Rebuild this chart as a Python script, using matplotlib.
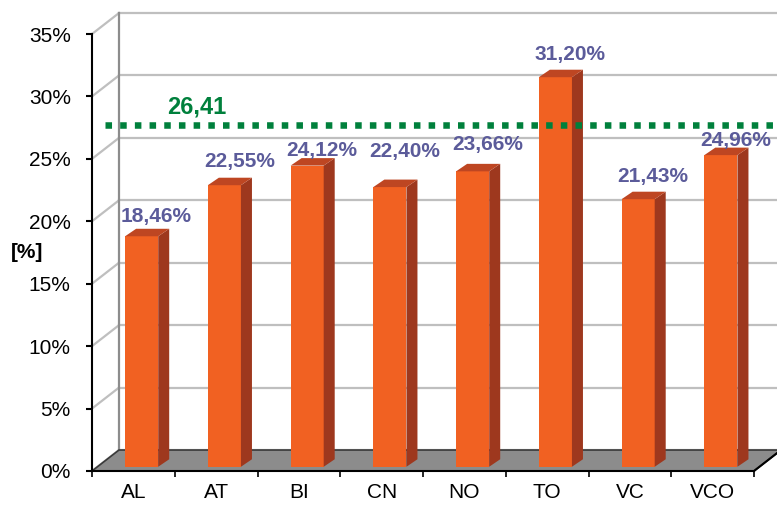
import matplotlib.pyplot as plt
from matplotlib.patches import Polygon, Rectangle

plt.rcParams['font.family'] = ['Liberation Sans', 'DejaVu Sans']

# data
categories = ['AL', 'AT', 'BI', 'CN', 'NO', 'TO', 'VC', 'VCO']
values = [18.46, 22.55, 24.12, 22.40, 23.66, 31.20, 21.43, 24.96]
average = 26.41
y_ticks = [0, 5, 10, 15, 20, 25, 30, 35]

# layout of the fake 3D look (data units)
DX, DY = 0.326, 1.68          # depth of the floor / back wall
BAR_X, BAR_W, BAR_Y0 = 0.40, 0.40, 0.34
BDX, BDY = 0.133, 0.6         # depth of each bar
label_dy = [1.48, 1.80, 1.11, 2.77, 2.05, 1.72, 1.74, 1.07]   # Excel shifted labels a bit

orange = '#F16122'
orange_side = '#9E381E'
orange_top = '#BE4622'
label_col = '#5B5B9A'
green = '#00803C'
grid_col = '#BFBFBF'

fig = plt.figure(figsize=(7.77, 5.07), dpi=100)
ax = fig.add_axes([92 / 777, 36 / 507, 662 / 777, 437 / 507])
ax.set_xlim(0, len(categories))
ax.set_ylim(0, 35)

n = len(categories)

# back wall and left wall grid
for v in y_ticks:
    ax.plot([DX, n + DX], [v + DY, v + DY], color=grid_col, lw=1.6, clip_on=False, zorder=1)
    ax.plot([0, DX], [v, v + DY], color=grid_col, lw=1.6, clip_on=False, zorder=1)
ax.plot([DX, DX], [DY, 35 + DY], color='#8C8C8C', lw=1.6, clip_on=False, zorder=1)

# floor
floor = Polygon([(0, 0), (n, 0), (n + DX, DY), (DX, DY)], closed=True,
                facecolor='#8C8C8C', edgecolor='#3A3A3A', lw=1.2, clip_on=False, zorder=2)
ax.add_patch(floor)

# bars
for i, v in enumerate(values):
    x0 = i + BAR_X
    front = Rectangle((x0, BAR_Y0), BAR_W, v, facecolor=orange, edgecolor='none',
                      clip_on=False, zorder=3)
    side = Polygon([(x0 + BAR_W, BAR_Y0), (x0 + BAR_W + BDX, BAR_Y0 + BDY),
                    (x0 + BAR_W + BDX, BAR_Y0 + v + BDY), (x0 + BAR_W, BAR_Y0 + v)],
                   closed=True, facecolor=orange_side, edgecolor='none', clip_on=False, zorder=3)
    top = Polygon([(x0, BAR_Y0 + v), (x0 + BAR_W, BAR_Y0 + v),
                   (x0 + BAR_W + BDX, BAR_Y0 + v + BDY), (x0 + BDX, BAR_Y0 + v + BDY)],
                  closed=True, facecolor=orange_top, edgecolor='none', clip_on=False, zorder=3)
    ax.add_patch(front)
    ax.add_patch(side)
    ax.add_patch(top)
    ax.text(x0 + BAR_W / 2 + 0.18, v + label_dy[i], f'{v:.2f}%'.replace('.', ','),
            ha='center', va='baseline', fontsize=15, fontweight='bold',
            color=label_col, zorder=5, clip_on=False)

# average line
ax.plot([0.157, n + 0.5], [average + 1.3, average + 1.3], color=green, lw=4.7,
        linestyle=(0, (1.0, 1.25)), clip_on=False, zorder=4)
ax.text(1.269, average + 2.26, f'{average:.2f}'.replace('.', ','), ha='center', va='baseline',
        fontsize=17, fontweight='bold', color=green, zorder=5)

# axes
for s in ['top', 'right']:
    ax.spines[s].set_visible(False)
ax.spines['left'].set_linewidth(1.5)
ax.spines['bottom'].set_linewidth(1.5)
ax.spines['bottom'].set_zorder(6)

ax.set_yticks(y_ticks)
ax.set_yticklabels([f'{t}%' for t in y_ticks], fontsize=15)
ax.tick_params(axis='y', direction='out', length=4.3, width=1.5, pad=11)

ax.set_xticks(range(n + 1))
ax.set_xticklabels([])
ax.set_xticks([i + 0.5 for i in range(n)], minor=True)
ax.set_xticklabels(categories, minor=True, fontsize=15)
ax.tick_params(axis='x', which='major', direction='out', length=4, width=1.2)
ax.tick_params(axis='x', which='minor', length=0, pad=9)

# right edge of the floor
ax.plot([n, n + DX], [0, DY], color='black', lw=1.5, clip_on=False, zorder=6)

fig.text(27.5 / 777, 1 - 252 / 507, '[%]', ha='center', va='center',
         fontsize=15, fontweight='bold')

fig.savefig('out.png', dpi=100)
